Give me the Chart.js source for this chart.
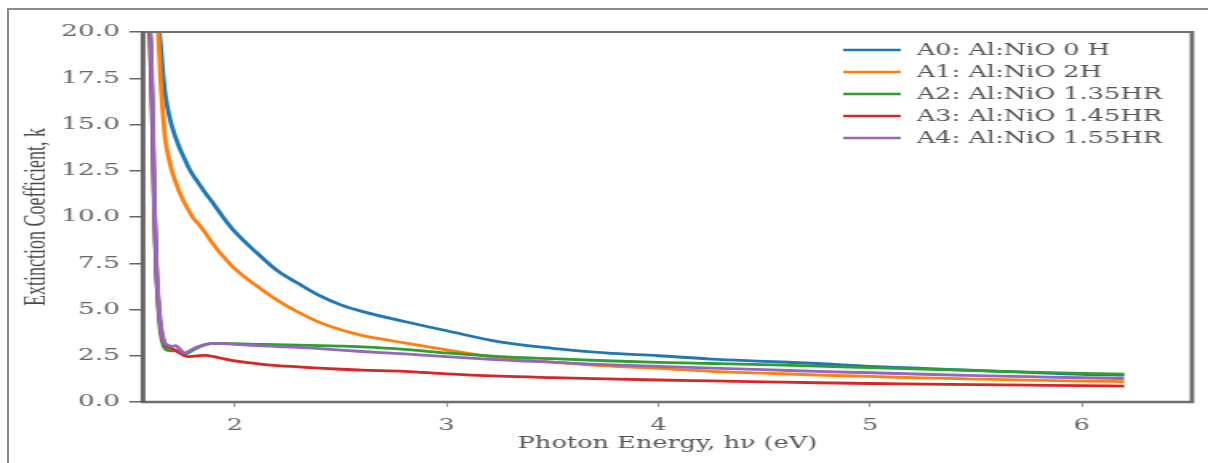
<!DOCTYPE html>
<html>
<head>
<meta charset="utf-8">
<script src="https://cdn.jsdelivr.net/npm/chart.js@4.4.1/dist/chart.umd.min.js"></script>
<style>
body { margin: 0; background: #fff; overflow: hidden; }
#wrap { position: relative; width: 1208px; height: 463px; }
#chart { position: absolute; left: 0; top: 0; }
#frame { position: absolute; left: 7px; top: 8px; width: 1220px; height: 470px; border-top: 2px solid #8c8c8c; border-left: 2px solid #8c8c8c; pointer-events: none; }
</style>
</head>
<body>
<div id="wrap">
  <canvas id="chart" width="755" height="463" style="width:1208px;height:463px"></canvas>
  <div id="frame"></div>
</div>
<script>
// photon energy (eV), shared by all five samples
const energy = [1.58, 1.59, 1.60, 1.61, 1.62, 1.63, 1.64, 1.65, 1.66, 1.67, 1.68,
    1.70, 1.72, 1.74, 1.76, 1.78, 1.80, 1.83, 1.86, 1.90, 1.95,
    2.0, 2.1, 2.2, 2.3, 2.4, 2.5, 2.6, 2.8, 3.0, 3.25, 3.5, 3.75, 4.0,
    4.25, 4.5, 4.75, 5.0, 5.25, 5.5, 5.75, 6.0, 6.2];

// extinction coefficient k
const kA0 = [60, 50, 40, 33, 27, 23, 20.5, 19.2, 17.8, 16.7, 16.0,
    15.0, 14.3, 13.7, 13.2, 12.7, 12.3, 11.8, 11.3, 10.7, 9.9,
    9.2, 8.1, 7.1, 6.4, 5.75, 5.25, 4.9, 4.35, 3.85, 3.25, 2.9, 2.65, 2.5,
    2.32, 2.2, 2.08, 1.93, 1.82, 1.71, 1.6, 1.5, 1.45];
const kA1 = [60, 48, 38, 31, 25.5, 22, 19.5, 17.2, 15.6, 14.3, 13.6,
    12.6, 11.9, 11.3, 10.8, 10.4, 10.0, 9.6, 9.15, 8.5, 7.8,
    7.2, 6.3, 5.5, 4.85, 4.3, 3.9, 3.6, 3.2, 2.82, 2.38, 2.15, 1.95, 1.82,
    1.66, 1.56, 1.46, 1.38, 1.3, 1.24, 1.18, 1.13, 1.1];
const kA2 = [40, 22, 19.5, 15.5, 10.0, 6.8, 4.9, 3.7, 3.15, 2.9, 2.8,
    2.76, 2.78, 2.7, 2.6, 2.66, 2.8, 2.97, 3.1, 3.17, 3.17,
    3.15, 3.12, 3.1, 3.07, 3.05, 3.02, 2.98, 2.85, 2.65, 2.45, 2.34, 2.23, 2.14,
    2.08, 2.02, 1.94, 1.86, 1.78, 1.7, 1.62, 1.55, 1.5];
const kA3 = [40, 22, 19.5, 15.5, 10.3, 7.0, 5.1, 4.0, 3.4, 3.1, 3.0,
    2.9, 2.78, 2.65, 2.52, 2.45, 2.47, 2.5, 2.52, 2.45, 2.33,
    2.22, 2.08, 1.97, 1.9, 1.83, 1.77, 1.72, 1.66, 1.52, 1.4, 1.32, 1.25, 1.19,
    1.14, 1.09, 1.04, 1.0, 0.97, 0.94, 0.91, 0.88, 0.86];
const kA4 = [45, 28, 20.5, 16.5, 10.5, 7.1, 5.3, 4.1, 3.5, 3.15, 3.1,
    3.0, 3.05, 2.85, 2.65, 2.72, 2.85, 3.0, 3.1, 3.17, 3.15,
    3.12, 3.05, 3.0, 2.95, 2.88, 2.8, 2.73, 2.6, 2.45, 2.28, 2.15, 2.02, 1.93,
    1.83, 1.75, 1.65, 1.58, 1.5, 1.43, 1.37, 1.31, 1.27];

const seriesLabels = ["A0: Al:NiO 0 H", "A1: Al:NiO 2H", "A2: Al:NiO 1.35HR", "A3: Al:NiO 1.45HR", "A4: Al:NiO 1.55HR"];
const seriesValues = [kA0, kA1, kA2, kA3, kA4];
const xTicks = [2, 3, 4, 5, 6];

const colors = ["#1f77b4", "#ff7f0e", "#2ca02c", "#d62728", "#9467bd"];
const serif = "'DejaVu Serif', serif";

const datasets = seriesLabels.map(function (label, i) {
    return {
        label: label,
        data: energy.map(function (e, j) { return {x: e, y: seriesValues[i][j]}; }),
        borderColor: colors[i],
        backgroundColor: colors[i],
        borderWidth: 2.8,
        pointRadius: 0,
        fill: false,
        cubicInterpolationMode: 'monotone',
        order: seriesLabels.length - i
    };
});

// box around the plot, drawn like the spines of the original figure
const frameBox = {
    id: 'frameBox',
    afterDatasetsDraw(chart) {
        const ctx = chart.ctx;
        const a = chart.chartArea;
        ctx.save();
        ctx.strokeStyle = '#6e6e6e';
        ctx.lineWidth = 2;
        ctx.beginPath(); ctx.moveTo(a.left, a.top); ctx.lineTo(a.right, a.top); ctx.stroke();
        ctx.lineWidth = 2.8;
        ctx.beginPath(); ctx.moveTo(a.right, a.top - 1); ctx.lineTo(a.right, a.bottom + 1); ctx.stroke();
        ctx.lineWidth = 2.6;
        ctx.beginPath(); ctx.moveTo(a.left - 1, a.bottom); ctx.lineTo(a.right + 1, a.bottom); ctx.stroke();
        ctx.strokeStyle = '#666';
        ctx.lineWidth = 3;
        ctx.beginPath(); ctx.moveTo(a.left, a.top - 1); ctx.lineTo(a.left, a.bottom + 1); ctx.stroke();
        ctx.restore();
    }
};

// legend inside the top right corner of the plot
const innerLegend = {
    id: 'innerLegend',
    afterDraw(chart) {
        const ctx = chart.ctx;
        const a = chart.chartArea;
        const x0 = a.right - 218;
        let y = a.top + 18;
        ctx.save();
        ctx.font = "16px " + serif;
        ctx.textBaseline = 'middle';
        chart.data.datasets.forEach(function (ds) {
            ctx.strokeStyle = ds.borderColor;
            ctx.lineWidth = 2.5;
            ctx.beginPath(); ctx.moveTo(x0, y); ctx.lineTo(x0 + 36, y); ctx.stroke();
            ctx.fillStyle = '#555';
            ctx.fillText(ds.label, x0 + 46, y + 1);
            y += 22;
        });
        ctx.restore();
    }
};

new Chart(document.getElementById("chart"), {
    type: 'line',
    data: {datasets: datasets},
    plugins: [frameBox, innerLegend],
    options: {
        responsive: false,
        animation: false,
        devicePixelRatio: 1,
        layout: {padding: {left: 4, right: 10, top: 32, bottom: 0}},
        plugins: {
            legend: {display: false},
            tooltip: {enabled: false}
        },
        scales: {
            x: {
                type: 'linear',
                min: 1.566,
                max: 6.52,
                afterBuildTicks: function (scale) {
                    scale.ticks = xTicks.map(function (v) { return {value: v}; });
                },
                afterFit: function (scale) { scale.height = 61; },
                border: {display: false},
                grid: {drawOnChartArea: false, drawTicks: true, tickLength: 5, color: '#999', lineWidth: 1},
                ticks: {color: '#666', padding: 9, font: {family: serif, size: 16}, maxRotation: 0},
                title: {display: true, text: 'Photon Energy, hν (eV)', color: '#555', font: {family: serif, size: 16}, padding: {top: 0, bottom: 10}}
            },
            y: {
                min: 0,
                max: 20,
                afterFit: function (scale) { scale.width = 85.4; },
                border: {display: false},
                grid: {drawOnChartArea: false, drawTicks: true, tickLength: 8.5, color: '#666', lineWidth: 1.5},
                ticks: {stepSize: 2.5, color: '#666', padding: 6, font: {family: serif, size: 16.5},
                    callback: function (value) { return value.toFixed(1); }},
                title: {display: true, text: 'Extinction Coefficient, k', color: '#4a4a4a',
                    font: {family: "'Liberation Serif', serif", size: 18}, padding: {top: 8, bottom: 0}}
            }
        }
    }
});
</script>
</body>
</html>
